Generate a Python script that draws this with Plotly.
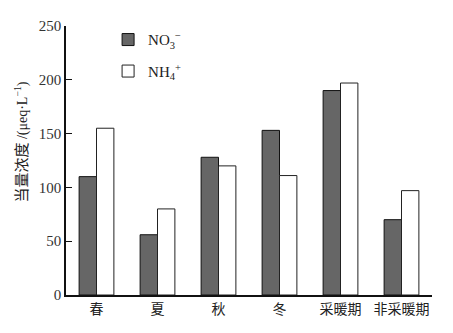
import plotly.graph_objects as go

categories = ["春", "夏", "秋", "冬", "采暖期", "非采暖期"]
no3_values = [110, 56, 128, 153, 190, 70]
nh4_values = [155, 80, 120, 111, 197, 97]
y_ticks = [0, 50, 100, 150, 200, 250]

SERIF = "Liberation Serif, Times New Roman, serif"

fig = go.Figure()
fig.add_trace(go.Bar(
    x=categories, y=no3_values, name="NO<sub>3</sub><sup>−</sup>",
    marker=dict(color="#666666", line=dict(color="#111111", width=1)),
    legendgroup="a",
))
fig.add_trace(go.Bar(
    x=categories, y=nh4_values, name="NH<sub>4</sub><sup>+</sup>",
    marker=dict(color="white", line=dict(color="#222222", width=1)),
    legendgroup="b",
))

fig.update_layout(
    width=445, height=325,
    margin=dict(l=58, r=21, t=10, b=38),
    paper_bgcolor="white", plot_bgcolor="white",
    barmode="group", bargap=0.43, bargroupgap=0,
    font=dict(family=SERIF, size=13, color="#222222"),
    showlegend=True,
    legend=dict(x=0.115, y=1.01, xanchor="left", yanchor="top",
                bgcolor="rgba(0,0,0,0)", tracegroupgap=9,
                font=dict(size=15, family=SERIF),
                itemwidth=30),
    xaxis=dict(
        range=[-0.5, 5.5], showline=True, linecolor="#111111", linewidth=1.5,
        ticks="", showgrid=False, zeroline=False,
        tickfont=dict(family="Noto Sans CJK SC", size=14, color="#222222"),
    ),
    yaxis=dict(
        range=[0, 250], tickvals=y_ticks, showline=True, linecolor="#111111",
        linewidth=1.5, ticks="inside", ticklen=6, tickcolor="#111111",
        showgrid=False, zeroline=False,
        tickfont=dict(family=SERIF, size=15, color="#333333"),
    ),
    annotations=[dict(
        text="当量浓度 <span style=\"font-family:'Liberation Serif'; font-size:14px\">/(μeq·L<sup>−1</sup>)</span>",
        xref="paper", yref="paper", x=0, y=0.567, xshift=-46,
        xanchor="center", yanchor="middle", textangle=-90, showarrow=False,
        font=dict(family="Noto Sans CJK SC", size=15, color="#222222"),
    )],
)

fig.write_html("out.html")
